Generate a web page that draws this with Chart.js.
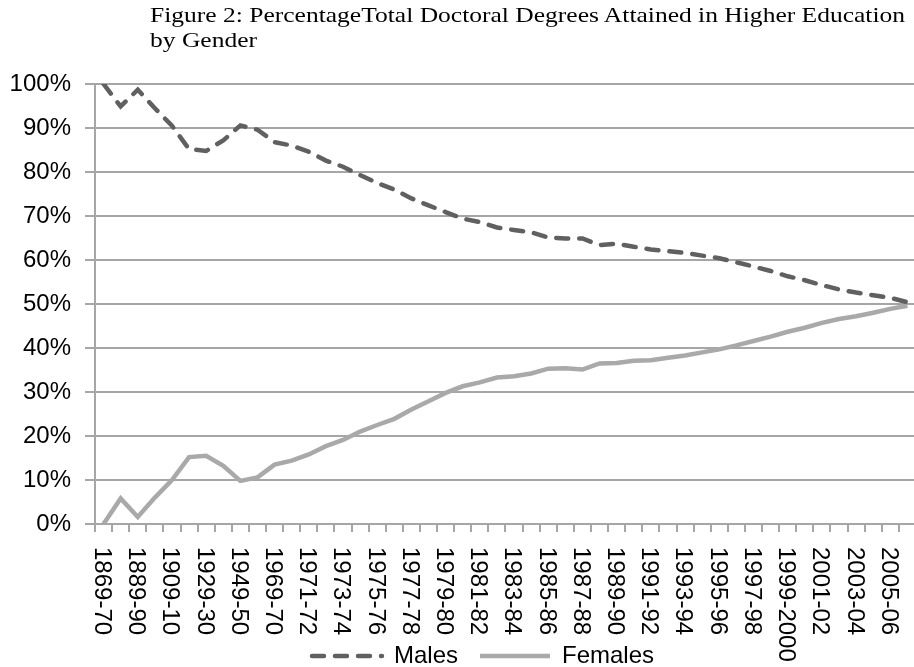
<!DOCTYPE html>
<html lang="en">
<head>
    <meta charset="UTF-8">
    <title>Doctoral Degrees by Gender</title>
    <style>
        * {
            margin: 0;
            padding: 0;
            box-sizing: border-box;
        }

        body {
            background: #ffffff;
            width: 914px;
            height: 667px;
            overflow: hidden;
            position: relative;
        }

        .chart-title {
            position: absolute;
            left: 150px;
            top: 2px;
            font-family: 'Liberation Serif', 'Times New Roman', serif;
            font-size: 22px;
            line-height: 25px;
            color: #000;
            white-space: nowrap;
            transform: scaleX(1.16);
            transform-origin: left top;
            z-index: 2;
        }

        canvas {
            position: absolute;
            left: 0;
            top: 0;
        }
    </style>
</head>
<body>
    <div class="chart-title">Figure 2: PercentageTotal Doctoral Degrees Attained in Higher Education<br>by Gender</div>
    <canvas id="genderChart" width="916" height="667"></canvas>

    <script src="https://cdn.jsdelivr.net/npm/chart.js"></script>
    <script>
        // academic years (every other one is labelled)
        const years = [
            '1869-70', '1879-80', '1889-90', '1899-1900', '1909-10', '1919-20',
            '1929-30', '1939-40', '1949-50', '1959-60', '1969-70', '1970-71',
            '1971-72', '1972-73', '1973-74', '1974-75', '1975-76', '1976-77',
            '1977-78', '1978-79', '1979-80', '1980-81', '1981-82', '1982-83',
            '1983-84', '1984-85', '1985-86', '1986-87', '1987-88', '1988-89',
            '1989-90', '1990-91', '1991-92', '1992-93', '1993-94', '1994-95',
            '1995-96', '1996-97', '1997-98', '1998-99', '1999-2000', '2000-01',
            '2001-02', '2002-03', '2003-04', '2004-05', '2005-06', '2006-07'
        ];

        // percent of doctoral degrees
        const males = [
            100, 94.9, 98.7, 94.5, 90.5, 85.2, 84.8, 87.2, 90.6, 89.6,
            86.8, 86.0, 84.6, 82.6, 81.2, 79.3, 77.5, 76.0, 74.0, 72.4,
            70.9, 69.4, 68.6, 67.4, 66.8, 66.3, 65.1, 64.9, 64.9, 63.4,
            63.7, 63.0, 62.4, 62.0, 61.6, 61.0, 60.4, 59.5, 58.5, 57.5,
            56.3, 55.4, 54.3, 53.3, 52.6, 52.0, 51.4, 50.4
        ];
        const females = [
            0, 5.8, 1.6, 6.0, 10.0, 15.2, 15.5, 13.2, 9.8, 10.6,
            13.5, 14.4, 15.8, 17.7, 19.1, 21.0, 22.5, 23.9, 26.0, 27.9,
            29.8, 31.3, 32.2, 33.3, 33.6, 34.2, 35.3, 35.4, 35.1, 36.5,
            36.6, 37.1, 37.2, 37.8, 38.3, 39.0, 39.7, 40.6, 41.6, 42.6,
            43.7, 44.6, 45.7, 46.6, 47.2, 48.0, 48.9, 49.6
        ];

        const yTicks = [0, 10, 20, 30, 40, 50, 60, 70, 80, 90, 100];

        const axisFont = "'Liberation Sans', Arial, sans-serif";
        const gridGray = '#a6a6a6';

        // draw the year labels rotated clockwise, reading top to bottom
        const verticalLabels = {
            id: 'verticalLabels',
            afterLayout(chart) {
                // legend sits a little right of centre in the original
                chart.legend.left += 21;
                chart.legend.right += 21;
            },
            afterDraw(chart) {
                const scale = chart.scales.x;
                const ctx = chart.ctx;
                ctx.save();
                ctx.font = '24px ' + axisFont;
                ctx.fillStyle = '#000';
                ctx.textAlign = 'left';
                ctx.textBaseline = 'middle';
                years.forEach((label, i) => {
                    if (i % 2 !== 0) return;
                    const x = scale.getPixelForValue(i);
                    ctx.save();
                    ctx.translate(x - 2, scale.top + 23);
                    ctx.rotate(Math.PI / 2);
                    ctx.fillText(label, 0, 0);
                    ctx.restore();
                });
                ctx.restore();
            }
        };

        const ctx = document.getElementById('genderChart').getContext('2d');
        new Chart(ctx, {
            type: 'line',
            data: {
                labels: years,
                datasets: [
                    {
                        label: 'Males',
                        data: males,
                        borderColor: '#606060',
                        backgroundColor: '#606060',
                        borderWidth: 4.5,
                        borderDash: [12, 11],
                        borderCapStyle: 'round',
                        pointRadius: 0,
                        tension: 0
                    },
                    {
                        label: 'Females',
                        data: females,
                        borderColor: '#a9a9a9',
                        backgroundColor: '#a9a9a9',
                        borderWidth: 4.5,
                        pointRadius: 0,
                        tension: 0
                    }
                ]
            },
            options: {
                responsive: false,
                animation: false,
                layout: {
                    padding: { left: 8, right: 0, top: 84, bottom: -11 }
                },
                scales: {
                    x: {
                        offset: true,
                        grid: {
                            offset: true,
                            drawOnChartArea: false,
                            drawTicks: true,
                            tickLength: 8,
                            color: gridGray,
                            lineWidth: 2
                        },
                        border: { color: gridGray, width: 2 },
                        ticks: { display: false, autoSkip: false },
                        afterFit: (scale) => { scale.height = 98; }
                    },
                    y: {
                        min: 0,
                        max: 100,
                        afterBuildTicks: (scale) => {
                            scale.ticks = yTicks.map(v => ({ value: v }));
                        },
                        afterFit: (scale) => { scale.width = 87; },
                        ticks: {
                            callback: (v) => v + '%',
                            font: { family: axisFont, size: 24 },
                            color: '#000',
                            padding: 14
                        },
                        grid: {
                            color: gridGray,
                            lineWidth: 2,
                            tickLength: 10
                        },
                        border: { color: gridGray, width: 2 }
                    }
                },
                plugins: {
                    legend: {
                        position: 'bottom',
                        labels: {
                            usePointStyle: true,
                            pointStyle: 'line',
                            pointStyleWidth: 70,
                            font: { family: axisFont, size: 24 },
                            color: '#000',
                            padding: 22,
                            generateLabels: (chart) =>
                                Chart.defaults.plugins.legend.labels.generateLabels(chart).map((item, i) => {
                                    const ds = chart.data.datasets[i];
                                    item.lineDash = ds.borderDash || [];
                                    item.lineCap = ds.borderCapStyle || 'butt';
                                    item.lineWidth = ds.borderWidth;
                                    item.strokeStyle = ds.borderColor;
                                    return item;
                                })
                        }
                    },
                    tooltip: { enabled: false }
                }
            },
            plugins: [verticalLabels]
        });
    </script>
</body>
</html>
